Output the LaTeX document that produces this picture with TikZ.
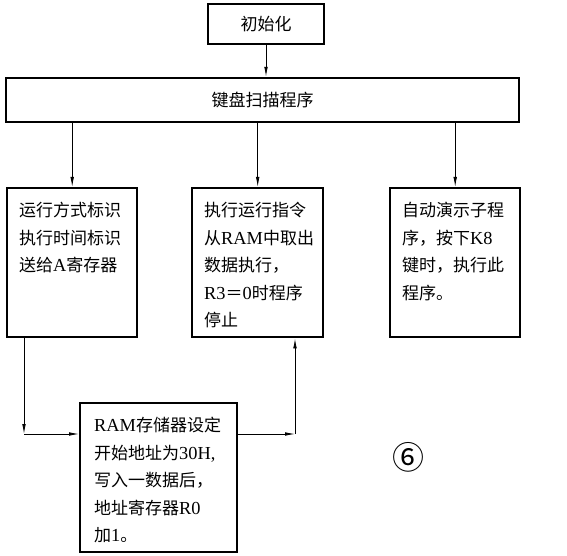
\documentclass[tikz,border=0pt]{standalone}
\usepackage{fontspec}
\setmainfont{Noto Sans CJK SC}
\newfontfamily\lat[Scale=1.08]{Liberation Serif}
\usetikzlibrary{arrows.meta,positioning,calc}

\newcommand{\en}[1]{{\lat #1}}
\newcommand{\boxtxt}[3]{\parbox[c][#2][t]{#1}{\fontsize{17pt}{27.5pt}\selectfont\raggedright #3}}

\begin{document}
\begin{tikzpicture}[x=1pt,y=1pt,>=Latex]
  \tikzstyle{block}=[draw,line width=2.4pt,font=\fontsize{17pt}{20pt}\selectfont]
  \tikzstyle{txtbox}=[draw,line width=2.4pt,inner xsep=12pt,inner ysep=14pt]
  \tikzstyle{arr}=[-{Latex[length=10pt,width=3.6pt]},line width=0.8pt]
  \useasboundingbox (0,0) rectangle (567,-556);
  \node[block,minimum width=116pt,minimum height=40pt] (init) at (266,-24) {初始化};
  \node[block,minimum width=513pt,minimum height=44pt] (scan) at (262.5,-100) {键盘扫描程序};
  \node[txtbox,anchor=north west] (run) at (6,-187)
    {\boxtxt{106pt}{121pt}{运行方式标识\\执行时间标识\\送给\en{A}寄存器}};
  \node[txtbox,right=52.6pt of run] (exe)
    {\boxtxt{107pt}{121pt}{执行运行指令\\从\en{RAM}中取出\\数据执行，\\\en{R3}＝\en{0}时程序\\停止}};
  \node[txtbox,right=64.6pt of exe] (demo)
    {\boxtxt{106pt}{121pt}{自动演示子程\\序，按下\en{K8}\\键时，执行此\\程序。}};
  \node[txtbox,inner xsep=14pt,anchor=north west] (ram) at (79,-402)
    {\boxtxt{129pt}{121pt}{\en{RAM}存储器设定\\开始地址为\en{30H,}\\写入一数据后，\\地址寄存器\en{R0}\\加\en{1}。}};
  \node (num) at (408,-457) {\fontsize{32pt}{32pt}\selectfont ⑥};
  \coordinate (c1) at (24,-434);
  \coordinate (c2) at (295,-434);
  % connectors
  \draw[arr] (init) -- (scan.north -| init);
  \draw[arr] (scan.south -| run) -- (run.north);
  \draw[arr] (scan.south -| exe) -- (exe.north);
  \draw[arr] (scan.south -| demo) -- (demo.north);
  \draw[arr] (run.south -| c1) -- (c1);
  \draw[arr] (c1) -- (ram.west |- c1);
  \draw[arr] (ram.east |- c2) -- (c2);
  \draw[arr] (c2) -- (exe.south -| c2);
\end{tikzpicture}
\end{document}
